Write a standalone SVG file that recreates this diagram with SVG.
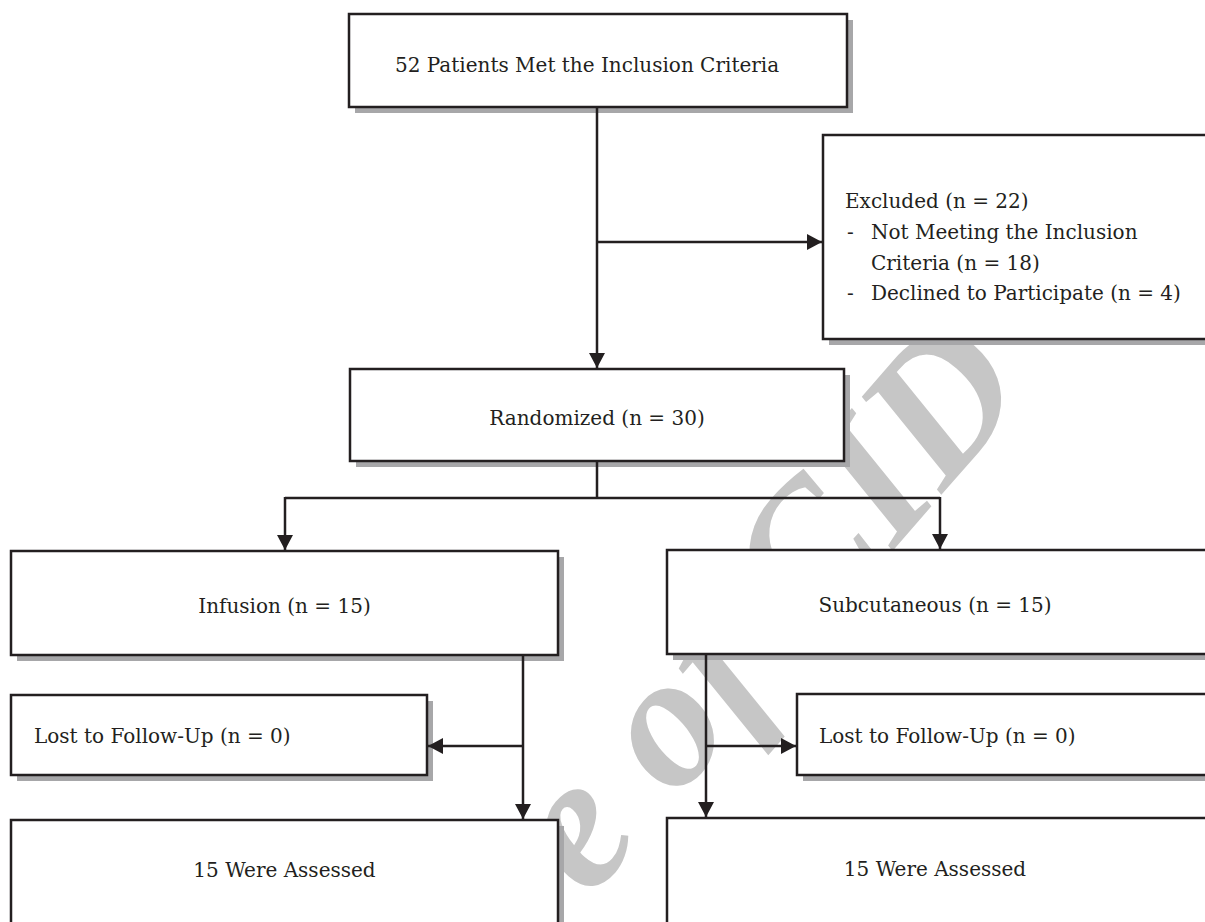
<svg xmlns="http://www.w3.org/2000/svg" width="1205" height="922" viewBox="0 0 1205 922">
<defs>
<style>
.sh{fill:#a7a7a9;}
.bx{fill:#ffffff;stroke:#231f20;stroke-width:2.5;}
.t{font-family:"DejaVu Serif","Liberation Serif",serif;font-size:20px;fill:#231f20;}
.c{text-anchor:middle;}
.ln{fill:none;stroke:#231f20;stroke-width:2.5;}
.wm{font-family:"Liberation Serif","DejaVu Serif",serif;font-size:190px;font-weight:bold;font-style:italic;fill:#c6c6c6;}
</style>
<marker id="ah" markerWidth="16" markerHeight="16" refX="15" refY="8" orient="auto" markerUnits="userSpaceOnUse">
<path d="M0,0 L15,8 L0,16 Z" fill="#231f20"/>
</marker>
</defs>
<rect width="1205" height="922" fill="#ffffff"/>
<g id="watermark">
<text class="wm" transform="translate(589,900) rotate(-49)">e of CID</text>
</g>
<g id="n-top">
<rect class="sh" x="355" y="20" width="498" height="93"/>
<rect class="bx" x="349" y="14" width="498" height="93"/>
<text class="t" x="395" y="72">52 Patients Met the Inclusion Criteria</text>
</g>
<g id="n-excluded">
<rect class="sh" x="829" y="141" width="400" height="204"/>
<rect class="bx" x="823" y="135" width="400" height="204"/>
<text class="t" x="845" y="208">Excluded (n = 22)</text>
<text class="t" x="847" y="239">-</text>
<text class="t" x="871" y="239">Not Meeting the Inclusion</text>
<text class="t" x="871" y="270">Criteria (n = 18)</text>
<text class="t" x="847" y="300">-</text>
<text class="t" x="871" y="300">Declined to Participate (n = 4)</text>
</g>
<g id="n-randomized">
<rect class="sh" x="356" y="375" width="494" height="92"/>
<rect class="bx" x="350" y="369" width="494" height="92"/>
<text class="t c" x="597" y="425">Randomized (n = 30)</text>
</g>
<g id="n-infusion">
<rect class="sh" x="17" y="557" width="547" height="104"/>
<rect class="bx" x="11" y="551" width="547" height="104"/>
<text class="t c" x="284.5" y="613">Infusion (n = 15)</text>
</g>
<g id="n-subcutaneous">
<rect class="sh" x="673" y="556" width="560" height="104"/>
<rect class="bx" x="667" y="550" width="560" height="104"/>
<text class="t c" x="935" y="612">Subcutaneous (n = 15)</text>
</g>
<g id="n-lost-left">
<rect class="sh" x="17" y="701" width="416" height="80"/>
<rect class="bx" x="11" y="695" width="416" height="80"/>
<text class="t" x="34" y="743">Lost to Follow-Up (n = 0)</text>
</g>
<g id="n-lost-right">
<rect class="sh" x="803" y="700" width="430" height="81"/>
<rect class="bx" x="797" y="694" width="430" height="81"/>
<text class="t" x="819" y="743">Lost to Follow-Up (n = 0)</text>
</g>
<g id="n-assessed-left">
<rect class="sh" x="17" y="826" width="547" height="120"/>
<rect class="bx" x="11" y="820" width="547" height="120"/>
<text class="t c" x="284.5" y="877">15 Were Assessed</text>
</g>
<g id="n-assessed-right">
<rect class="sh" x="673" y="824" width="560" height="120"/>
<rect class="bx" x="667" y="818" width="560" height="120"/>
<text class="t c" x="935" y="876">15 Were Assessed</text>
</g>
<g id="connectors">
<path class="ln" d="M597,107 V368" marker-end="url(#ah)"/>
<path class="ln" d="M597,242 H822" marker-end="url(#ah)"/>
<path class="ln" d="M597,461 V498 M285,498 H940"/>
<path class="ln" d="M285,497 V550" marker-end="url(#ah)"/>
<path class="ln" d="M940,497 V549" marker-end="url(#ah)"/>
<path class="ln" d="M523,655 V819" marker-end="url(#ah)"/>
<path class="ln" d="M523,746 H428" marker-end="url(#ah)"/>
<path class="ln" d="M706,654 V817" marker-end="url(#ah)"/>
<path class="ln" d="M706,746 H796" marker-end="url(#ah)"/>
</g>
</svg>
